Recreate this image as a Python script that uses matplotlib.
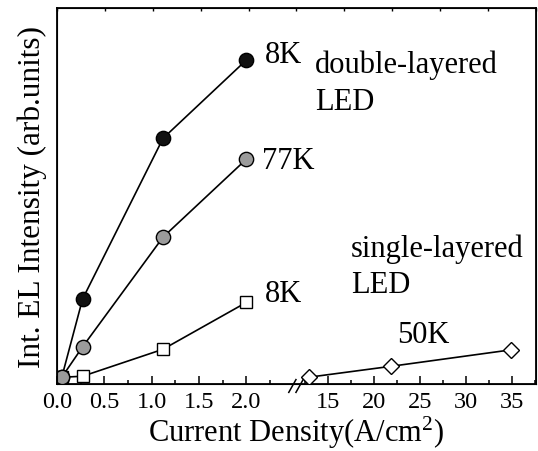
import numpy as np
import matplotlib
matplotlib.use("Agg")
import matplotlib.pyplot as plt
from matplotlib.ticker import FixedLocator, NullLocator, NullFormatter

plt.rcParams["font.family"] = ["Liberation Serif", "DejaVu Serif"]
plt.rcParams["mathtext.fontset"] = "custom"
plt.rcParams["mathtext.rm"] = "Liberation Serif"
plt.rcParams["mathtext.default"] = "regular"

# double-layered LED, 8 K (filled black circles)
dl_8k_x = [0.05, 0.27, 1.12, 2.0]
dl_8k_y = [0.2, 2.49, 7.19, 9.48]
# double-layered LED, 77 K (grey circles)
dl_77k_x = [0.05, 0.27, 1.12, 2.0]
dl_77k_y = [0.2, 1.09, 4.30, 6.58]
# single-layered LED, 8 K (open squares)
sl_8k_x = [0.05, 0.27, 1.12, 2.0]
sl_8k_y = [0.2, 0.23, 1.02, 2.39]
# single-layered LED, 50 K (open diamonds)
sl_50k_x = [12.9, 21.85, 34.85]
sl_50k_y = [0.2, 0.52, 1.0]

x_major = [0, 0.5, 1.0, 1.5, 2.0, 15, 20, 25, 30, 35]
x_labels = ["0.0", "0.5", "1.0", "1.5", "2.0", "15", "20", "25", "30", "35"]
x_minor = [0.25, 0.75, 1.25, 1.75, 2.25, 12.5, 17.5, 22.5, 27.5, 32.5, 37.5]

# broken x axis: linear up to XL, compressed gap, linear (x10 compressed) from XR
XL, XR, B, EPS = 2.49, 11.2, 0.0972, 1e-3


def fwd(x):
    x = np.asarray(x, dtype=float)
    return np.where(x <= XL, x,
                    np.where(x >= XR, XL + EPS + B * (x - XR),
                             XL + EPS * (x - XL) / (XR - XL)))


def inv(u):
    u = np.asarray(u, dtype=float)
    return np.where(u <= XL, u,
                    np.where(u >= XL + EPS, XR + (u - XL - EPS) / B,
                             XL + (u - XL) * (XR - XL) / EPS))


fig = plt.figure(figsize=(5.38, 4.52), dpi=100)
ax = fig.add_axes([0.106, 0.148, 0.890, 0.832])
ax.set_xscale("function", functions=(fwd, inv))

lw = 1.2
ax.plot(sl_8k_x, sl_8k_y, color="black", lw=lw, marker="s", ms=8.3,
        mfc="white", mec="black", mew=1.0, zorder=3)
ax.plot(sl_50k_x, sl_50k_y, color="black", lw=lw, marker="D", ms=8.3,
        mfc="white", mec="black", mew=1.0, zorder=3)
ax.plot(dl_8k_x, dl_8k_y, color="black", lw=lw, marker="o", ms=10.3,
        mfc="#111111", mec="black", mew=1.0, zorder=4)
ax.plot(dl_77k_x, dl_77k_y, color="black", lw=lw, marker="o", ms=10.3,
        mfc="#9b9b9b", mec="black", mew=1.0, zorder=5)

ax.set_xlim(0, 37.6)
ax.set_ylim(0, 11)

ax.xaxis.set_major_locator(FixedLocator(x_major))
ax.xaxis.set_minor_locator(FixedLocator(x_minor))
ax.set_xticklabels(x_labels)
ax.xaxis.set_minor_formatter(NullFormatter())
ax.yaxis.set_major_locator(FixedLocator(list(range(0, 12))))
ax.yaxis.set_minor_locator(NullLocator())
ax.set_yticklabels([])

ax.tick_params(axis="x", which="major", direction="in", length=6, width=1.1,
               labelsize=17.5, pad=5, top=False)
ax.tick_params(axis="x", which="minor", direction="in", length=3, width=1.1,
               top=False)
ax.tick_params(axis="y", which="major", direction="in", length=6.5, width=1.1,
               left=True, right=True)
for s in ax.spines.values():
    s.set_linewidth(1.3)

# small ticks along the top spine at every tenth of the width
top = ax.twiny()
top.set_xlim(0, 1)
top.xaxis.set_major_locator(FixedLocator(np.arange(0, 1.01, 0.1)))
top.set_xticklabels([])
top.tick_params(axis="x", direction="in", length=2, width=1.0)
top.set_yticks([])

ax.set_xlabel(r"Current Density(A/cm$^2$)", fontsize=22, labelpad=1)
ax.set_ylabel("Int. EL Intensity (arb.units)", fontsize=22.5, labelpad=7)

# axis break marks
for x0 in (0.484, 0.499):
    ax.plot([x0, x0 + 0.015], [-0.022, 0.012], transform=ax.transAxes,
            color="black", lw=1.1, clip_on=False, zorder=6)

fs = 22
ax.text(0.434, 0.856, "8K", transform=ax.transAxes, fontsize=fs, va="baseline")
ax.text(0.539, 0.830, "double-layered", transform=ax.transAxes, fontsize=fs,
        va="baseline")
ax.text(0.539, 0.731, "LED", transform=ax.transAxes, fontsize=fs, va="baseline")
ax.text(0.428, 0.574, "77K", transform=ax.transAxes, fontsize=fs, va="baseline")
ax.text(0.434, 0.221, "8K", transform=ax.transAxes, fontsize=fs, va="baseline")
ax.text(0.614, 0.340, "single-layered", transform=ax.transAxes, fontsize=fs,
        va="baseline")
ax.text(0.614, 0.245, "LED", transform=ax.transAxes, fontsize=fs, va="baseline")
ax.text(0.710, 0.112, "50K", transform=ax.transAxes, fontsize=fs, va="baseline")

fig.savefig("out.png", dpi=100)
